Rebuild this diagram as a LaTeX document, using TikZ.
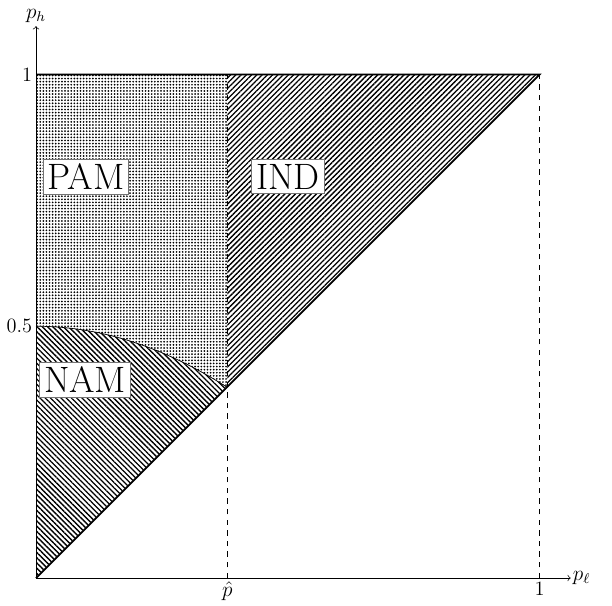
\documentclass[tikz,border=0pt]{standalone}
\usetikzlibrary{patterns.meta}
\begin{document}
\begin{tikzpicture}[x=10cm, y=10cm, >=to,
  zone/.style={fill=white, draw=black!55, thin, font=\huge, inner sep=2.5pt},
  tick/.style={inner sep=2pt, font=\fontsize{11.5}{13}\selectfont},
  bound/.style={line width=1pt}]
\useasboundingbox (-0.0715,-0.0536) rectangle (1.144,1.148);
\def\pcut{0.38}

% shaded regions
\fill[pattern={Lines[angle=-45, distance=2.1pt, line width=0.75pt]}] (0,0) -- (0,0.5)
  -- plot[domain=0:\pcut, samples=40] (\x,{0.5-0.841*\x*\x}) -- cycle;
\fill[pattern={Dots[distance=1.75pt, radius=0.55pt]}] (0,1) -- (\pcut,1) -- (\pcut,\pcut)
  -- plot[domain=\pcut:0, samples=40] (\x,{0.5-0.841*\x*\x}) -- cycle;
\fill[pattern={Lines[angle=45, distance=2.1pt, line width=0.75pt]}] (\pcut,\pcut) -- (\pcut,1) -- (1,1) -- cycle;

% boundaries
\draw plot[domain=0:\pcut, samples=40] (\x,{0.5-0.841*\x*\x});
\draw[dashed] (\pcut,0) -- (\pcut,1);
\draw[dashed] (1,0) -- (1,1);
\draw[bound] (0,1) -- (1,1) -- (0,0);

% axes
\coordinate (o) at (0,0);
\coordinate (xend) at (1.062,0);
\coordinate (yend) at (0,1.096);
\draw[->] (o) -- (xend) node[right, inner sep=1pt, font=\large] (xlab) {$p_\ell$};
\draw[->] (o) -- (yend) node[above, inner sep=2pt, font=\large] (ylab) {$p_h$};

% ticks
\node[left, tick] (one y) at (0,1) {1};
\node[left, tick] (half y) at (0,0.5) {0.5};
\node[below, tick] (pcut x) at (\pcut,0) {$\hat{p}$};
\node[below, tick] (one x) at (1,0) {1};

% region labels
\node[zone] (pam) at (0.099,0.797) {PAM};
\node[zone] (ind) at (0.5,0.797) {IND};
\node[zone] (nam) at (0.0975,0.394) {NAM};

\end{tikzpicture}
\end{document}
